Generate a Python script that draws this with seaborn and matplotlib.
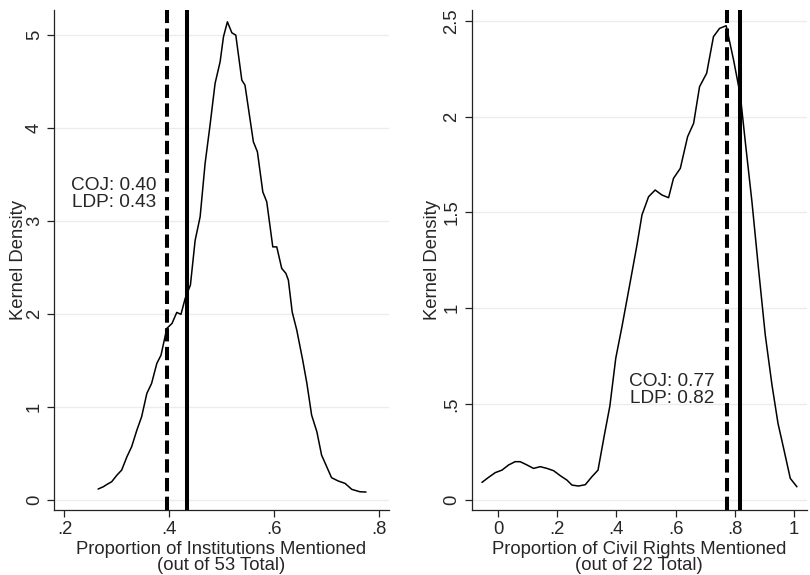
import matplotlib
matplotlib.use("Agg")
import matplotlib.pyplot as plt
import seaborn as sns
import pandas as pd

# ---- data: institutions panel ----
inst_x = [0.264, 0.274, 0.281, 0.290, 0.300, 0.309, 0.319, 0.328, 0.338, 0.347,
          0.357, 0.366, 0.376, 0.384, 0.395, 0.405, 0.414, 0.422, 0.430, 0.440,
          0.449, 0.4585, 0.468, 0.477, 0.487, 0.4966, 0.503, 0.5105, 0.519, 0.5265,
          0.538, 0.544, 0.560, 0.5677, 0.578, 0.5855, 0.597, 0.6046, 0.614, 0.622,
          0.6267, 0.634, 0.6427, 0.654, 0.662, 0.671, 0.681, 0.690, 0.6998, 0.709,
          0.722, 0.7347, 0.7475, 0.763, 0.7747]
inst_y = [0.118, 0.143, 0.168, 0.197, 0.268, 0.322, 0.465, 0.573, 0.752, 0.895,
          1.146, 1.253, 1.468, 1.557, 1.844, 1.898, 2.016, 1.995, 2.166, 2.31,
          2.79, 3.043, 3.617, 4.01, 4.476, 4.708, 4.977, 5.138, 5.02, 4.995,
          4.511, 4.458, 3.849, 3.741, 3.31, 3.204, 2.72, 2.72, 2.489, 2.435,
          2.363, 2.02, 1.826, 1.504, 1.253, 0.913, 0.734, 0.483, 0.358, 0.24,
          0.204, 0.179, 0.115, 0.089, 0.086]
inst_total = 53
inst_coj, inst_ldp = 21, 23

# ---- data: civil rights panel ----
civ_x = [-0.054, -0.032, -0.009, 0.0135, 0.036, 0.058, 0.075, 0.098, 0.120, 0.143,
         0.1655, 0.188, 0.2105, 0.233, 0.250, 0.272, 0.295, 0.3176, 0.338, 0.359,
         0.378, 0.398, 0.419, 0.447, 0.4696, 0.4865, 0.5088, 0.531, 0.554, 0.5764,
         0.593, 0.616, 0.6406, 0.661, 0.681, 0.705, 0.728, 0.7486, 0.771, 0.796,
         0.8186, 0.8355, 0.858, 0.880, 0.903, 0.9257, 0.946, 0.965, 0.9875, 1.010]
civ_y = [0.092, 0.118, 0.143, 0.156, 0.183, 0.200, 0.200, 0.183, 0.165, 0.174,
         0.165, 0.153, 0.127, 0.104, 0.078, 0.073, 0.080, 0.122, 0.156, 0.335,
         0.49, 0.74, 0.905, 1.139, 1.33, 1.487, 1.582, 1.617, 1.591, 1.577,
         1.678, 1.730, 1.895, 1.965, 2.156, 2.226, 2.417, 2.46, 2.474, 2.295,
         2.113, 1.869, 1.556, 1.209, 0.861, 0.600, 0.40, 0.27, 0.113, 0.069]
civ_total = 22
civ_coj, civ_ldp = 17, 18

inst_xticks = [0.2, 0.4, 0.6, 0.8]
inst_xlabels = [".2", ".4", ".6", ".8"]
inst_yticks = [0, 1, 2, 3, 4, 5]
inst_ylabels = ["0", "1", "2", "3", "4", "5"]
civ_xticks = [0, 0.2, 0.4, 0.6, 0.8, 1.0]
civ_xlabels = ["0", ".2", ".4", ".6", ".8", "1"]
civ_yticks = [0, 0.5, 1, 1.5, 2, 2.5]
civ_ylabels = ["0", ".5", "1", "1.5", "2", "2.5"]

sns.set_style("white")
plt.rcParams["font.family"] = ["Liberation Sans", "DejaVu Sans"]
FS = 13.3

fig = plt.figure(figsize=(8.1, 5.75), dpi=100)
ax1 = fig.add_axes([54/810, 65/575, (389-54)/810, 500/575])
ax2 = fig.add_axes([471.7/810, 65/575, (807-471.7)/810, 500/575])

panels = [
    (ax1, inst_x, inst_y, inst_total, inst_coj, inst_ldp, inst_xticks, inst_xlabels,
     inst_yticks, inst_ylabels, (0.180, 0.8185), (-0.107, 5.265),
     "Proportion of Institutions Mentioned\n(out of 53 Total)", (0.375, 3.29), -27/335),
    (ax2, civ_x, civ_y, civ_total, civ_coj, civ_ldp, civ_xticks, civ_xlabels,
     civ_yticks, civ_ylabels, (-0.0887, 1.044), (-0.052, 2.556),
     "Proportion of Civil Rights Mentioned\n(out of 22 Total)", (0.731, 0.574), -31/335.3),
]

for (ax, xs, ys, tot, coj, ldp, xt, xl, yt, yl, xlim, ylim, xlab, tpos, ylx) in panels:
    df = pd.DataFrame({"x": xs, "y": ys})
    for v in yt:
        ax.axhline(v, color="#ececec", lw=1.0, zorder=0)
    sns.lineplot(data=df, x="x", y="y", ax=ax, color="black", lw=1.1, sort=False)
    coj_v = coj / tot
    ldp_v = ldp / tot
    ax.axvline(coj_v, color="black", lw=2.9, dashes=(3.3, 1.35), zorder=3)
    ax.axvline(ldp_v, color="black", lw=2.9, zorder=3)
    ax.text(tpos[0], tpos[1], f"COJ: {coj_v:.2f}\nLDP: {ldp_v:.2f}",
            ha="right", va="center", fontsize=FS + 0.4, linespacing=1.0)
    ax.set_xlim(*xlim)
    ax.set_ylim(*ylim)
    ax.set_xticks(xt)
    ax.set_xticklabels(xl, fontsize=FS)
    ax.set_yticks(yt)
    ax.set_yticklabels(yl, fontsize=FS, rotation=90, va="center")
    ax.set_xlabel(xlab, fontsize=FS, linespacing=0.95, labelpad=2)
    ax.set_ylabel("Kernel Density", fontsize=FS)
    ax.yaxis.set_label_coords(ylx, 0.5)
    for s in ["top", "right"]:
        ax.spines[s].set_visible(False)
    for s in ["left", "bottom"]:
        ax.spines[s].set_color("#222222")
        ax.spines[s].set_linewidth(0.9)
    ax.tick_params(axis="both", direction="out", length=5, width=0.9,
                   color="#222222", pad=3, left=True, bottom=True)
    ax.grid(False)

fig.savefig("out.png", dpi=100)
